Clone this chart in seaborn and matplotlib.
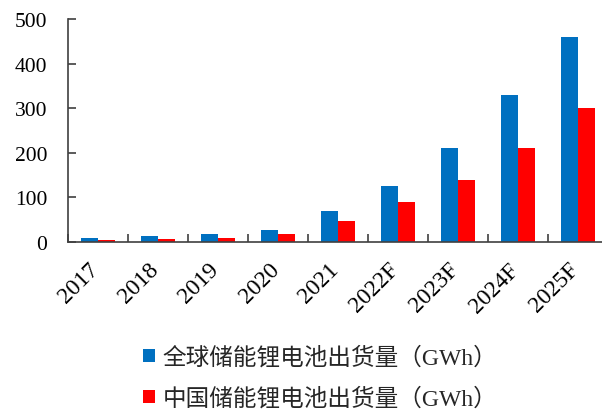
import matplotlib
matplotlib.use("Agg")
import matplotlib.pyplot as plt
import matplotlib.transforms as mtransforms
from matplotlib.patches import Patch
import seaborn as sns
import pandas as pd

years = ["2017", "2018", "2019", "2020", "2021", "2022F", "2023F", "2024F", "2025F"]
global_gwh = [10, 14, 17, 27, 70, 125, 210, 330, 460]
china_gwh = [4, 6, 10, 17, 48, 90, 140, 210, 300]
series_names = ["全球储能锂电池出货量（GWh）", "中国储能锂电池出货量（GWh）"]
series_colors = ["#0070C0", "#FF0000"]
y_ticks = [0, 100, 200, 300, 400, 500]

sns.set_theme(style="white")
plt.rcParams["font.family"] = ["Liberation Serif", "Noto Sans CJK SC", "DejaVu Sans"]

df = pd.DataFrame({
    "year": years * 2,
    "value": global_gwh + china_gwh,
    "series": [series_names[0]] * len(years) + [series_names[1]] * len(years),
})

fig = plt.figure(figsize=(6.02, 4.10), dpi=100)
ax = fig.add_axes([68.3 / 602, (410 - 243) / 410, 540 / 602, 223 / 410])

sns.barplot(data=df, x="year", y="value", hue="series", order=years,
            hue_order=series_names, palette=series_colors, width=0.567,
            linewidth=0, saturation=1, ax=ax, legend=False)

ax.set_xlim(-0.5, len(years) - 0.5)
ax.set_ylim(0, 500)
ax.set_yticks(y_ticks)
ax.set_xlabel("")
ax.set_ylabel("")

for side in ("top", "right"):
    ax.spines[side].set_visible(False)
for side in ("left", "bottom"):
    ax.spines[side].set_color("#404040")
    ax.spines[side].set_linewidth(1.2)

# category boundary ticks on the x axis, labels at the category centres
ax.set_xticks([i - 0.5 for i in range(len(years) + 1)], minor=True)
ax.tick_params(axis="x", which="minor", direction="in", length=6, width=1.2,
               color="#404040", bottom=True)
ax.tick_params(axis="x", which="major", length=0, pad=12, labelsize=17,
               labelcolor="black", bottom=True)
ax.tick_params(axis="y", which="major", direction="in", length=6, width=1.2,
               color="#404040", pad=15, labelsize=15.5, labelcolor="black", left=True)

offset = mtransforms.ScaledTranslation(5 / 100, 0, fig.dpi_scale_trans)
for lbl in ax.get_xticklabels():
    lbl.set_rotation(45)
    lbl.set_ha("right")
    lbl.set_va("top")
    lbl.set_transform(lbl.get_transform() + offset)

handles = [Patch(facecolor=c, edgecolor="none") for c in series_colors]
fig.legend(handles, series_names, loc="upper left",
           bbox_to_anchor=(143 / 602, (410 - 347) / 410),
           frameon=False, fontsize=17, handlelength=0.5, handleheight=0.5,
           handletextpad=0.34, labelspacing=0.78, borderpad=0, borderaxespad=0)

fig.savefig("out.png", dpi=100)
